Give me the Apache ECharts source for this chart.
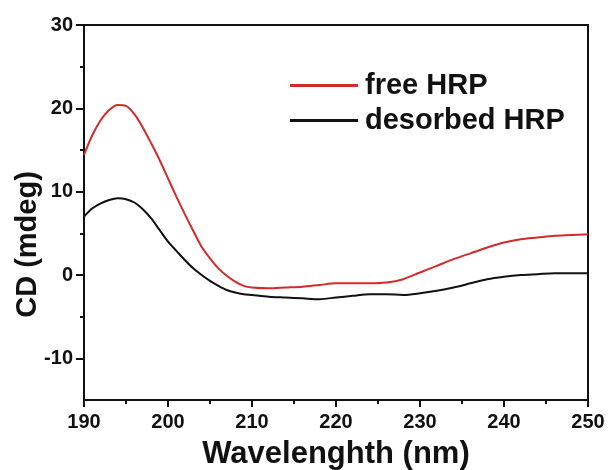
<!DOCTYPE html>
<html>
<head>
<meta charset="utf-8">
<script src="https://cdn.jsdelivr.net/npm/echarts@6/dist/echarts.min.js"></script>
<style>
  html, body { margin: 0; padding: 0; background: #fff; }
  #chart { width: 608px; height: 470px; }
</style>
</head>
<body>
<div id="chart"></div>
<script>
// CD spectra of free and desorbed HRP
const wavelength = [190,191,192,193,194,195,196,197,198,199,200,201,202,203,204,205,206,207,208,209,210,212,214,216,218,220,222,224,226,228,230,232,234,236,238,240,242,244,246,248,250];
const freeHRP = [14.4,16.8,18.6,19.8,20.4,20.3,19.3,17.7,15.8,13.8,11.6,9.4,7.3,5.3,3.4,2.0,0.8,-0.1,-0.8,-1.3,-1.5,-1.6,-1.5,-1.4,-1.2,-1.0,-1.0,-1.0,-0.9,-0.5,0.3,1.1,1.9,2.6,3.3,3.9,4.3,4.5,4.7,4.8,4.9];
const desorbedHRP = [7.0,8.0,8.6,9.0,9.2,9.1,8.7,7.9,6.8,5.4,4.0,2.9,1.8,0.8,0.0,-0.7,-1.3,-1.8,-2.1,-2.3,-2.4,-2.6,-2.7,-2.8,-2.9,-2.7,-2.5,-2.3,-2.3,-2.4,-2.2,-1.9,-1.5,-1.0,-0.5,-0.2,0.0,0.1,0.2,0.2,0.2];
const yMajorTicks = [-10, 0, 10, 20, 30];
const yMinorTicks = [-5, 5, 15, 25];
const seriesNames = ['free HRP', 'desorbed HRP'];

const pair = (ys) => wavelength.map((x, i) => [x, ys[i]]);
const FONT = 'Liberation Sans, Arial, sans-serif';

const chart = echarts.init(document.getElementById('chart'), null, { renderer: 'canvas' });
chart.setOption({
  backgroundColor: '#ffffff',
  animation: false,
  grid: {
    left: 84, right: 20, top: 25, bottom: 70,
    outerBoundsMode: 'none', containLabel: false,
    show: true, borderColor: '#111', borderWidth: 2, backgroundColor: 'transparent'
  },
  legend: {
    orient: 'vertical',
    left: 285, top: 66,
    itemWidth: 68, itemHeight: 3,
    itemGap: 6,
    icon: 'rect',
    data: seriesNames,
    textStyle: { fontFamily: FONT, fontWeight: 'bold', fontSize: 29, color: '#111', padding: [0, 0, 0, 2] }
  },
  xAxis: {
    type: 'value', min: 190, max: 250, interval: 10,
    name: 'Wavelenghth (nm)', nameLocation: 'middle', nameGap: 39, nameMoveOverlap: false,
    nameTextStyle: { fontFamily: FONT, fontWeight: 'bold', fontSize: 31, color: '#111' },
    axisLine: { show: true, onZero: false, lineStyle: { color: '#111', width: 2 } },
    axisTick: { show: true, inside: false, length: 7, lineStyle: { color: '#111', width: 2 } },
    minorTick: { show: true, splitNumber: 2, length: 4, lineStyle: { color: '#111', width: 2 } },
    axisLabel: { fontFamily: FONT, fontWeight: 'bold', fontSize: 20, color: '#111', margin: 12 },
    splitLine: { show: false }
  },
  yAxis: [{
    type: 'value', min: -15, max: 30, interval: 5,
    name: 'CD (mdeg)', nameLocation: 'middle', nameGap: 42, nameRotate: 90, nameMoveOverlap: false,
    nameTextStyle: { fontFamily: FONT, fontWeight: 'bold', fontSize: 29, color: '#111', padding: [0, 64, 0, 0] },
    axisLine: { show: true, onZero: false, lineStyle: { color: '#111', width: 2 } },
    axisTick: { show: true, length: 8, customValues: yMajorTicks, lineStyle: { color: '#111', width: 2 } },
    axisLabel: { fontFamily: FONT, fontWeight: 'bold', fontSize: 20, color: '#111', margin: 11, customValues: yMajorTicks },
    splitLine: { show: false }
  }, {
    type: 'value', min: -15, max: 30, interval: 5, position: 'left',
    axisLine: { show: false },
    axisTick: { show: true, length: 4, customValues: yMinorTicks, lineStyle: { color: '#111', width: 2 } },
    axisLabel: { show: false },
    splitLine: { show: false }
  }],
  series: [{
    name: seriesNames[0], type: 'line', smooth: 0.3, showSymbol: false, symbol: 'none',
    data: pair(freeHRP),
    lineStyle: { color: '#d42a2a', width: 2 }, itemStyle: { color: '#d42a2a' }
  }, {
    name: seriesNames[1], type: 'line', smooth: 0.3, showSymbol: false, symbol: 'none',
    data: pair(desorbedHRP),
    lineStyle: { color: '#111', width: 2 }, itemStyle: { color: '#111' }
  }]
});
</script>
</body>
</html>
